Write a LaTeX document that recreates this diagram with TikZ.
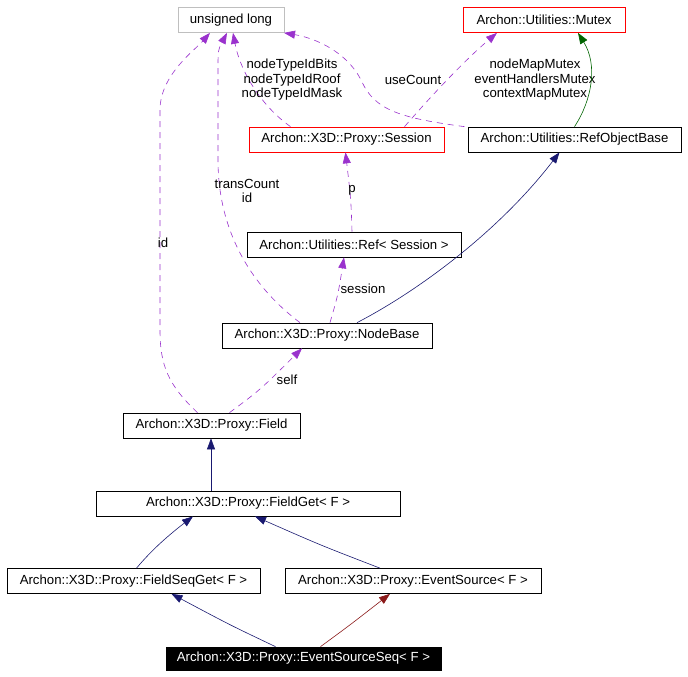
\documentclass[tikz,border=0pt]{standalone}
\usepackage{fontspec}
\setmainfont{Liberation Sans}
\usetikzlibrary{arrows.meta}
\definecolor{usecol}{HTML}{9A32CD}
\definecolor{inhcol}{HTML}{191970}
\definecolor{grncol}{HTML}{006400}
\definecolor{tplcol}{HTML}{8B1A1A}
\definecolor{undoc}{HTML}{BFBFBF}

\begin{document}
\begin{tikzpicture}[x=1pt,y=-1pt,
    cls/.style={draw=black,line width=0.7pt,minimum height=25pt,inner sep=0pt,
      font=\fontsize{13.2}{15}\selectfont},
    usage/.style={draw=usecol,dash pattern=on 6pt off 5pt,line width=0.6pt,
      -{Triangle[length=11pt,width=8pt]},text=black},
    inherit/.style={draw=inhcol,line width=0.6pt,-{Triangle[length=11pt,width=8pt]}},
    lbl/.style={align=center,font=\fontsize{13.2}{14.5}\selectfont}]
    \useasboundingbox (0,0) rectangle (688,677);

    % classes
    \node[cls,draw=undoc,minimum width=106pt] (ulong) at (231,20) {unsigned long};
    \node[cls,draw=red,minimum width=162pt] (mutex) at (544,20) {Archon::Utilities::Mutex};
    \node[cls,draw=red,minimum width=195pt] (session) at (346.5,139.5) {Archon::X3D::Proxy::Session};
    \node[cls,minimum width=213pt] (robase) at (574.5,139.5) {Archon::Utilities::RefObjectBase};
    \node[cls,minimum width=214pt] (ref) at (354,244.5) {Archon::Utilities::Ref< Session >};
    \node[cls,minimum width=210pt] (nodebase) at (327,335.5) {Archon::X3D::Proxy::NodeBase};
    \node[cls,minimum width=177pt] (field) at (211.5,425.5) {Archon::X3D::Proxy::Field};
    \node[cls,minimum width=304pt] (fieldget) at (248,503.5) {Archon::X3D::Proxy::FieldGet< F >};
    \node[cls,minimum width=253pt] (fseqget) at (133.5,581) {Archon::X3D::Proxy::FieldSeqGet< F >};
    \node[cls,minimum width=256pt] (evsrc) at (413,581) {Archon::X3D::Proxy::EventSource< F >};
    \node[cls,fill=black,text=white,minimum width=275pt,minimum height=23pt] (evseq) at (303.5,658.5) {Archon::X3D::Proxy::EventSourceSeq< F >};

    % usage edges
    \draw[usage] ([xshift=-14]field.north) .. controls (168,385) and (160,365) .. (160,330)
        -- (160,110) .. controls (160,75) and (195,50) .. ([xshift=-21]ulong.south);
    \node[lbl] (lid) at (163,243) {id};
    \draw[usage] ([xshift=-27]nodebase.north) .. controls (250,285) and (218,230) .. (218,160)
        -- (218,70) .. controls (218,50) .. ([xshift=-4]ulong.south);
    \node[lbl] (ltrans) at (247,191) {transCount\\id};
    \draw[usage] ([xshift=-56]session.north) .. controls (260,105) and (240,70) .. ([xshift=2]ulong.south);
    \node[lbl] (lnodetype) at (292,80) {nodeTypeIdBits\\nodeTypeIdRoof\\nodeTypeIdMask};
    \draw[usage] ([xshift=-110]robase.north) .. controls (400,118) and (375,110) .. (362,82)
        .. controls (348,52) and (315,38) .. ([xshift=53]ulong.south);
    \node[lbl] (luse) at (413,80) {useCount};
    \draw[usage] ([xshift=58]session.north) .. controls (432,95) and (465,60) .. ([xshift=-47]mutex.south);
    \node[lbl] (lmutex) at (535,80) {nodeMapMutex\\eventHandlersMutex\\contextMapMutex};
    \draw[usage] ([xshift=-2]ref.north) .. controls (351,200) .. ([xshift=-1]session.south);
    \node[lbl] (lp) at (352,190) {p};
    \draw[usage] ([xshift=3]nodebase.north) .. controls (338,295) .. ([xshift=-10]ref.south);
    \node[lbl] (lsession) at (363,289) {session};
    \draw[usage] ([xshift=18]field.north) .. controls (260,390) .. ([xshift=-25]nodebase.south);
    \node[lbl] (lself) at (287,380) {self};

    % inheritance edges
    \draw[draw=grncol,line width=0.6pt,-{Triangle[length=11pt,width=8pt]}]
        ([xshift=0]robase.north) .. controls (592,100) and (598,65) .. ([xshift=34]mutex.south);
    \draw[inherit] ([xshift=30]nodebase.north) .. controls (420,290) and (500,230) .. ([xshift=-15]robase.south);
    \draw[inherit] ([xshift=-37]fieldget.north) -- ([xshift=-0.5]field.south);
    \draw[inherit] ([xshift=3]fseqget.north) .. controls (150,552) and (165,538) .. ([xshift=-55]fieldget.south);
    \draw[inherit] ([xshift=-33]evsrc.north) .. controls (320,545) .. ([xshift=7]fieldget.south);
    \draw[inherit] ([xshift=-28]evseq.north) .. controls (230,625) .. ([xshift=38]fseqget.south);
    \draw[draw=tplcol,line width=0.6pt,-{Triangle[length=11pt,width=8pt]}]
        ([xshift=17]evseq.north) .. controls (350,625) .. ([xshift=-23]evsrc.south);
\end{tikzpicture}
\end{document}
